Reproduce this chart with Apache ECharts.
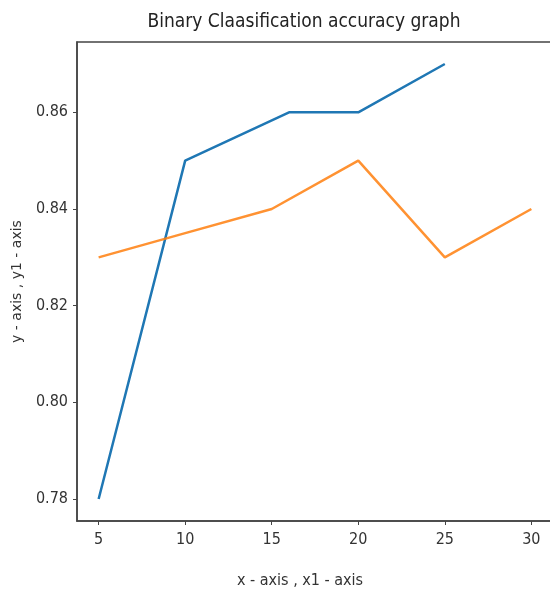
<!DOCTYPE html>
<html><head><meta charset="utf-8">
<script src="https://cdn.jsdelivr.net/npm/echarts@6/dist/echarts.min.js"></script>
<style>html,body{margin:0;padding:0;background:#fff}#c{width:550px;height:592px}</style>
</head><body><div id="c"></div>
<script>
const titleText = "Binary Claasification accuracy graph";
const xName = "x - axis , x1 - axis";
const yName = "y - axis , y1 - axis";
const blueX = [5, 10, 16, 20, 25];
const blueY = [0.78, 0.85, 0.86, 0.86, 0.87];
const orangeX = [5, 10, 15, 20, 25, 30];
const orangeY = [0.83, 0.835, 0.84, 0.85, 0.83, 0.84];
const xTicks = [5, 10, 15, 20, 25, 30];
const yTicks = [0.78, 0.80, 0.82, 0.84, 0.86];

const narrow = "'DejaVu Sans Condensed', 'Liberation Sans Narrow', 'DejaVu Sans', sans-serif";
const chart = echarts.init(document.getElementById('c'), null, {renderer: 'canvas'});
chart.setOption({
  animation: false,
  title: {text: titleText, left: 299, textAlign: 'center', top: 8,
    textStyle: {fontFamily: narrow, fontSize: 19, fontWeight: 'normal', color: '#222'}},
  grid: {left: 77, right: -3, top: 42, bottom: 71, show: true, borderColor: '#444', borderWidth: 1.5,
    backgroundColor: 'transparent', containLabel: false, outerBoundsMode: 'none'},
  xAxis: {type: 'value', min: 3.75, max: 31.25,
    name: xName, nameLocation: 'middle', nameGap: 52,
    nameTextStyle: {fontFamily: narrow, fontSize: 16, color: '#333', padding: [0, 30, 0, 0]},
    axisLine: {show: true, lineStyle: {color: '#444', width: 1.5}},
    axisTick: {show: true, length: 4, customValues: xTicks, lineStyle: {color: '#444'}},
    axisLabel: {customValues: xTicks, fontFamily: narrow, fontSize: 16, color: '#333', margin: 11},
    splitLine: {show: false}},
  yAxis: {type: 'value', min: 0.77545, max: 0.87455,
    name: yName, nameLocation: 'middle', nameGap: 53,
    nameTextStyle: {fontFamily: 'DejaVu Sans', fontSize: 14, color: '#333'},
    axisLine: {show: true, lineStyle: {color: '#444', width: 1.5}},
    axisTick: {show: true, length: 4, customValues: yTicks, lineStyle: {color: '#444'}},
    axisLabel: {customValues: yTicks, fontFamily: narrow, fontSize: 16, color: '#333', margin: 9,
      formatter: v => v.toFixed(2)},
    splitLine: {show: false}},
  series: [
    {type: 'line', data: blueX.map((x, i) => [x, blueY[i]]), showSymbol: false,
      lineStyle: {color: '#1f77b4', width: 2.5}, itemStyle: {color: '#1f77b4'}},
    {type: 'line', data: orangeX.map((x, i) => [x, orangeY[i]]), showSymbol: false,
      lineStyle: {color: '#ff7f0e', width: 2.5, opacity: 0.85}, itemStyle: {color: '#ff7f0e'}}
  ]
});
</script></body></html>
